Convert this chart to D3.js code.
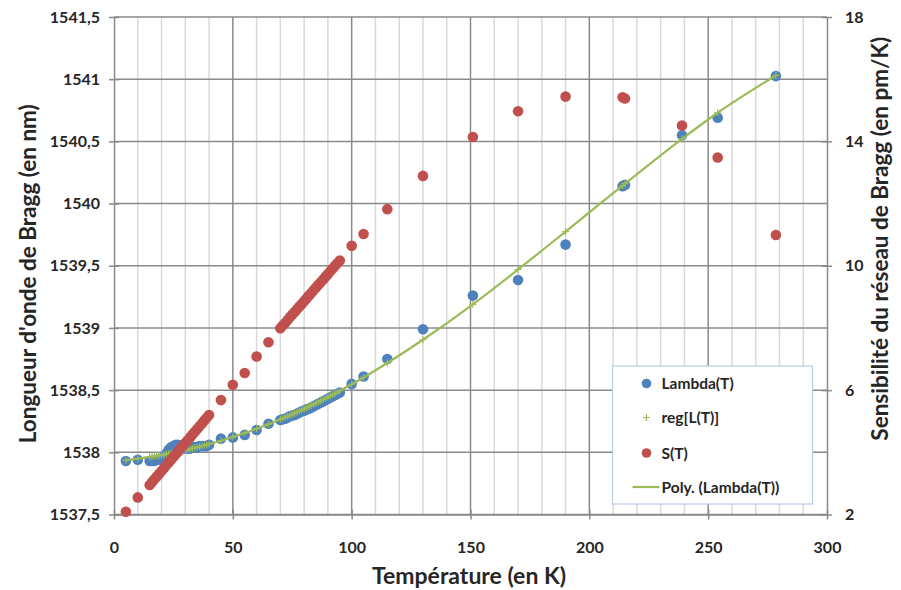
<!DOCTYPE html>
<html>
<head>
<meta charset="utf-8">
<script src="https://cdn.jsdelivr.net/npm/d3@7"></script>
<style>
  body { margin: 0; background: #fff; }
  svg text { font-family: Lato, "Open Sans", sans-serif; font-weight: bold; fill: #262626; }
</style>
</head>
<body>
<svg id="chart" width="901" height="590"></svg>
<script>
// Temperatures (K) of the measurements
const temps = [5, 10,
  15, 16, 17, 18, 19, 20, 21, 22, 23, 24, 25, 26, 27, 28, 29, 30, 31, 32, 33, 34, 35, 36, 37, 38, 39, 40,
  45, 50, 55, 60, 65,
  70, 71, 72, 73, 74, 75, 76, 77, 78, 79, 80, 81, 82, 83, 84, 85, 86, 87, 88, 89, 90, 91, 92, 93, 94, 95,
  100, 105, 115, 130, 151, 170, 190, 214, 215, 239, 254, 278.5];

// Lambda(T) in nm
const lambdaVals = [1537.93, 1537.94,
  1537.93, 1537.93, 1537.93, 1537.94, 1537.94, 1537.95, 1537.97, 1537.99, 1538.02, 1538.04, 1538.05, 1538.06, 1538.06, 1538.05,
  1538.04, 1538.03, 1538.03, 1538.03, 1538.04, 1538.04, 1538.04, 1538.05, 1538.05, 1538.05, 1538.05, 1538.06,
  1538.11, 1538.12, 1538.14, 1538.18, 1538.23,
  1538.26, 1538.265, 1538.27, 1538.28, 1538.29, 1538.295, 1538.30, 1538.31, 1538.32, 1538.33, 1538.335, 1538.345, 1538.35,
  1538.36, 1538.37, 1538.38, 1538.39, 1538.40, 1538.41, 1538.42, 1538.43, 1538.44, 1538.45, 1538.46, 1538.47, 1538.48,
  1538.55, 1538.61, 1538.75, 1538.99, 1539.26, 1539.385, 1539.67, 1540.14, 1540.15, 1540.55, 1540.69, 1541.025];

// reg[L(T)] in nm (polynomial regression values)
const regVals = [1537.937, 1537.949,
  1537.963, 1537.966, 1537.969, 1537.972, 1537.975, 1537.979, 1537.982, 1537.986, 1537.99, 1537.993, 1537.997, 1538.001,
  1538.005, 1538.009, 1538.013, 1538.018, 1538.022, 1538.027, 1538.031, 1538.036, 1538.041, 1538.046, 1538.051, 1538.056,
  1538.061, 1538.066,
  1538.093, 1538.123, 1538.155, 1538.19, 1538.226,
  1538.265, 1538.273, 1538.281, 1538.29, 1538.298, 1538.307, 1538.315, 1538.324, 1538.332, 1538.341, 1538.35, 1538.359,
  1538.368, 1538.377, 1538.387, 1538.396, 1538.405, 1538.415, 1538.425, 1538.434, 1538.444, 1538.454, 1538.464, 1538.474,
  1538.485, 1538.495,
  1538.547, 1538.602, 1538.718, 1538.905, 1539.19, 1539.47, 1539.775, 1540.145, 1540.16, 1540.52, 1540.73, 1541.03];

// S(T) in pm/K
const sVals = [2.09, 2.55,
  2.95, 3.04, 3.13, 3.22, 3.31, 3.40, 3.49, 3.58, 3.67, 3.76, 3.85, 3.94, 4.03, 4.12, 4.21, 4.30, 4.39, 4.48, 4.57, 4.66,
  4.75, 4.84, 4.93, 5.02, 5.11, 5.20,
  5.68, 6.17, 6.55, 7.08, 7.54,
  7.99, 8.08, 8.16, 8.25, 8.34, 8.43, 8.51, 8.60, 8.69, 8.77, 8.86, 8.95, 9.04, 9.12, 9.21, 9.30, 9.39, 9.47, 9.56, 9.65,
  9.73, 9.82, 9.91, 10.00, 10.08, 10.17,
  10.64, 11.02, 11.82, 12.89, 14.14, 14.97, 15.44, 15.42, 15.38, 14.51, 13.48, 10.99];

const xTicks = [0, 50, 100, 150, 200, 250, 300];
const xMinorTicks = [10, 20, 30, 40, 60, 70, 80, 90, 110, 120, 130, 140, 160, 170, 180, 190,
  210, 220, 230, 240, 260, 270, 280, 290];
const yLeftTicks = [1537.5, 1538, 1538.5, 1539, 1539.5, 1540, 1540.5, 1541, 1541.5];
const yRightTicks = [2, 6, 10, 14, 18];

const legendLabels = ["Lambda(T)", "reg[L(T)]", "S(T)", "Poly. (Lambda(T))"];

const blue = "#4f81bd", red = "#c0504d", green = "#9bbb59";
const gridMajor = "#8a8a8a", gridMinor = "#d9d9d9";

const svg = d3.select("#chart");
const pLeft = 114, pRight = 827, pTop = 17, pBottom = 514.5;

const x = d3.scaleLinear().domain([0, 300]).range([pLeft, pRight]);
const yL = d3.scaleLinear().domain([1537.5, 1541.5]).range([pBottom, pTop]);
const yR = d3.scaleLinear().domain([2, 18]).range([pBottom, pTop]);

const fr = d3.formatLocale({decimal: ",", thousands: "", grouping: [3], currency: ["", ""]});
const fmt = fr.format("");

// minor vertical gridlines
svg.append("g").selectAll("line").data(xMinorTicks).join("line")
  .attr("x1", d => x(d)).attr("x2", d => x(d))
  .attr("y1", pTop).attr("y2", pBottom)
  .attr("stroke", gridMinor).attr("stroke-width", 1.5);

// major vertical gridlines
svg.append("g").selectAll("line").data(xTicks.slice(1, -1)).join("line")
  .attr("x1", d => x(d)).attr("x2", d => x(d))
  .attr("y1", pTop).attr("y2", pBottom)
  .attr("stroke", gridMajor).attr("stroke-width", 1.5);

// horizontal gridlines
svg.append("g").selectAll("line").data(yLeftTicks).join("line")
  .attr("x1", pLeft).attr("x2", pRight)
  .attr("y1", d => yL(d)).attr("y2", d => yL(d))
  .attr("stroke", gridMajor).attr("stroke-width", 1.5);

// axes
function styleAxis(g) {
  g.select(".domain").attr("stroke", gridMajor).attr("stroke-width", 1.5);
  g.selectAll(".tick line").attr("stroke", gridMajor).attr("stroke-width", 1.5);
  g.selectAll(".tick text").style("font-size", "16px").attr("fill", "#262626");
}

svg.append("g")
  .attr("transform", `translate(0,${pBottom})`)
  .call(d3.axisBottom(x).tickValues(xTicks).tickSize(5).tickSizeOuter(0).tickPadding(22).tickFormat(d3.format("d")))
  .call(styleAxis)
  .call(g => g.selectAll(".tick line").attr("y1", -5));

svg.append("g")
  .attr("transform", `translate(${pLeft},0)`)
  .call(d3.axisLeft(yL).tickValues(yLeftTicks).tickSize(5).tickSizeOuter(0).tickPadding(9).tickFormat(fmt))
  .call(styleAxis)
  .call(g => g.selectAll(".tick line").attr("x1", 5));

svg.append("g")
  .attr("transform", `translate(${pRight},0)`)
  .call(d3.axisRight(yR).tickValues(yRightTicks).tickSize(5).tickSizeOuter(0).tickPadding(13).tickFormat(d3.format("d")))
  .call(styleAxis)
  .call(g => g.selectAll(".tick line").attr("x1", -5));

// axis titles
svg.append("text")
  .attr("x", 469).attr("y", 584)
  .attr("text-anchor", "middle").style("font-size", "23px")
  .text("Température (en K)");

svg.append("text")
  .attr("transform", `translate(36,${(pTop + pBottom) / 2 + 8}) rotate(-90)`)
  .attr("text-anchor", "middle").style("font-size", "22.5px")
  .text("Longueur d'onde de Bragg (en nm)");

svg.append("text")
  .attr("transform", `translate(888,${(pTop + pBottom) / 2 - 27}) rotate(-90)`)
  .attr("text-anchor", "middle").style("font-size", "22.5px")
  .text("Sensibilité du réseau de Bragg (en pm/K)");

const plot = svg.append("g");

// Lambda(T)
plot.append("g").selectAll("circle").data(temps).join("circle")
  .attr("cx", d => x(d)).attr("cy", (d, i) => yL(lambdaVals[i]))
  .attr("r", 5.3).attr("fill", blue);

// reg[L(T)] markers
const plusPath = "M-3.5,0H3.5M0,-3.5V3.5";
plot.append("g").selectAll("path").data(temps).join("path")
  .attr("transform", (d, i) => `translate(${x(d)},${yL(regVals[i])})`)
  .attr("d", plusPath).attr("stroke", green).attr("stroke-width", 1.2).attr("fill", "none");

// Poly. (Lambda(T)) trendline
const line = d3.line()
  .x(d => x(d))
  .y((d, i) => yL(regVals[i]))
  .curve(d3.curveMonotoneX);
plot.append("path").datum(temps)
  .attr("d", line).attr("fill", "none")
  .attr("stroke", green).attr("stroke-width", 2.2);

// S(T)
plot.append("g").selectAll("circle").data(temps).join("circle")
  .attr("cx", d => x(d)).attr("cy", (d, i) => yR(sVals[i]))
  .attr("r", 5.3).attr("fill", red);

// legend
const lg = svg.append("g").attr("transform", "translate(612.5,366)");
lg.append("rect").attr("width", 200).attr("height", 138)
  .attr("fill", "#fff").attr("stroke", "#b8cce4").attr("stroke-width", 1.2);
const rowY = [17.5, 51.5, 87, 121];
lg.selectAll("text").data(legendLabels).join("text")
  .attr("x", 49).attr("y", (d, i) => rowY[i] + 5.5)
  .style("font-size", "15.5px").text(d => d);
lg.append("circle").attr("cx", 34).attr("cy", rowY[0]).attr("r", 4.8).attr("fill", blue);
lg.append("path").attr("transform", `translate(34,${rowY[1]})`).attr("d", plusPath)
  .attr("stroke", green).attr("stroke-width", 1.2);
lg.append("circle").attr("cx", 34).attr("cy", rowY[2]).attr("r", 4.8).attr("fill", red);
lg.append("line").attr("x1", 20).attr("x2", 47).attr("y1", rowY[3]).attr("y2", rowY[3])
  .attr("stroke", green).attr("stroke-width", 2.2);
</script>
</body>
</html>
